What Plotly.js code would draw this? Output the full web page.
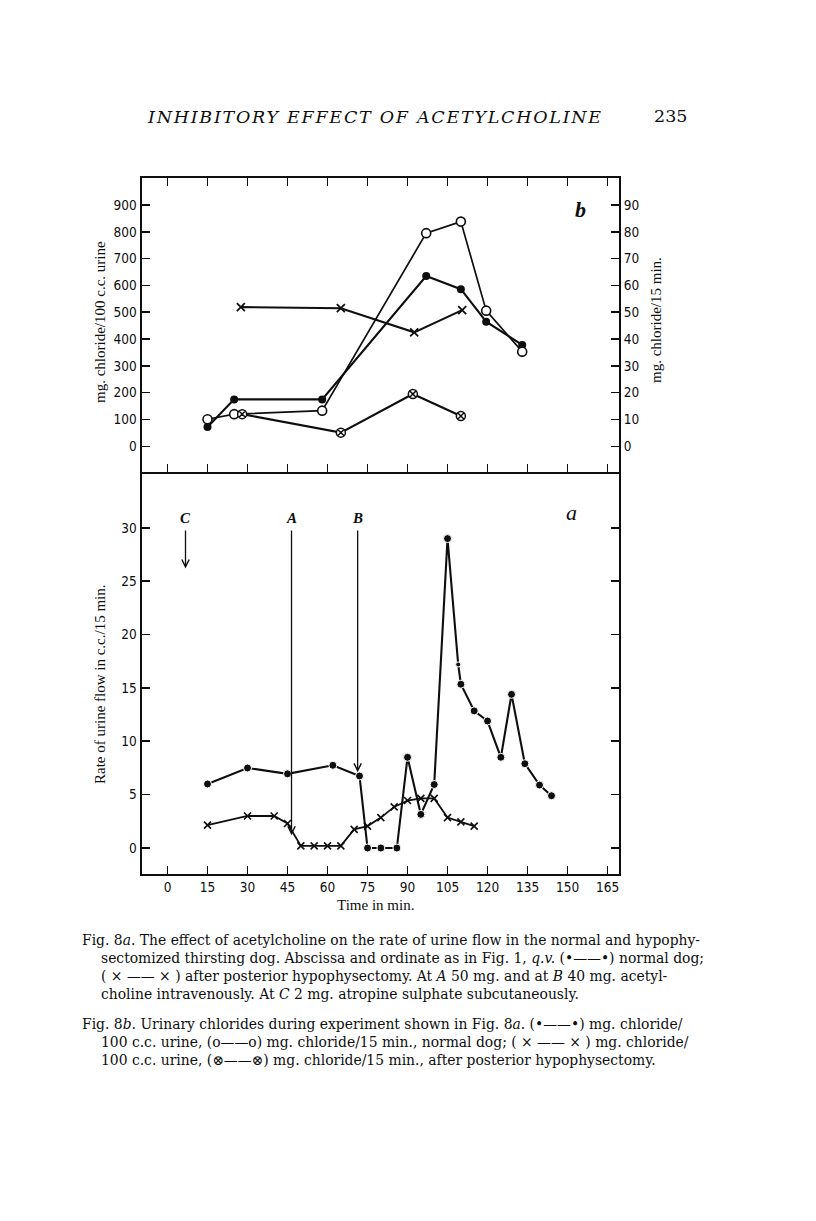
<!DOCTYPE html>
<html><head><meta charset="utf-8">
<script src="https://cdn.plot.ly/plotly-3.0.1.min.js"></script>
<style>html,body{margin:0;padding:0;background:#fff}</style>
</head><body><div id="chart" style="width:816px;height:1221px"></div>
<script>
// ---------- data ----------
const timeTicks = [0,15,30,45,60,75,90,105,120,135,150,165];
const flowTicks = [0,5,10,15,20,25,30];
const concTicks = [0,100,200,300,400,500,600,700,800,900];
const rateTicks = [0,10,20,30,40,50,60,70,80,90];

// Fig. 8a: rate of urine flow (c.c./15 min)
const normalFlowTime = [15,30,45,62,72,75,80,86,90,95,100,105,109,110,115,120,125,129,134,139.5,144];
const normalFlow     = [6.0,7.5,6.95,7.75,6.75,0,0,0,8.5,3.15,5.95,29.0,17.2,15.35,12.85,11.9,8.5,14.4,7.9,5.9,4.9];
const hypoFlowTime   = [15,30,40,45,50,55,60,65,70,75,80,85,90,95,100,105,110,115];
const hypoFlow       = [2.15,3.0,3.0,2.3,0.2,0.2,0.2,0.2,1.75,2.05,2.85,3.85,4.45,4.65,4.65,2.85,2.45,2.05];

// Fig. 8b: urinary chlorides
const normalChlTime  = [15,25,58,97,110,119.5,133];
const normalChlConc  = [72,175,175,635,586,465,378];          // mg / 100 c.c. urine
const normalChlRate  = [10.1,12.0,13.3,79.5,83.8,50.6,35.3];  // mg / 15 min
const hypoConcTime   = [27.5,65,92.5,110.5];
const hypoChlConc    = [519,515,425,508];                     // mg / 100 c.c. urine
const hypoRateTime   = [28,65,92,110];
const hypoChlRate    = [12.0,5.1,19.5,11.3];                  // mg / 15 min

// injections
const arrowLabels = ['C','A','B'];
const arrowTime   = [6.75,46.5,71.3];
const arrowTip    = [26.2,1.2,7.1];

const headText = 'INHIBITORY EFFECT OF ACETYLCHOLINE';
const pageNum = '235';
const capLines = [
  'Fig. 8<i>a</i>. The effect of acetylcholine on the rate of urine flow in the normal and hypophy-',
  'sectomized thirsting dog. Abscissa and ordinate as in Fig. 1, <i>q.v.</i> (•——•) normal dog;',
  '( × —— × ) after posterior hypophysectomy. At <i>A</i> 50 mg. and at <i>B</i> 40 mg. acetyl-',
  'choline intravenously. At <i>C</i> 2 mg. atropine sulphate subcutaneously.',
  'Fig. 8<i>b</i>. Urinary chlorides during experiment shown in Fig. 8<i>a</i>. (•——•) mg. chloride/',
  '100 c.c. urine, (o——o) mg. chloride/15 min., normal dog; ( × —— × ) mg. chloride/',
  '100 c.c. urine, (⊗——⊗) mg. chloride/15 min., after posterior hypophysectomy.'
];

// ---------- helpers ----------
const W = 816, H = 1221;
const px = x => x / W, py = y => 1 - y / H;
const ink = '#0e0e0e';
const numFont = {family:'"Liberation Sans Narrow","DejaVu Sans Condensed","Liberation Sans",sans-serif', size:13.5, color:ink};
const serif = '"Liberation Serif","DejaVu Serif",serif';
const capSerif = '"DejaVu Serif","Liberation Serif",serif';
const cv = document.createElement('canvas').getContext('2d');
function measure(txt, font){ cv.font = font; return cv.measureText(txt.replace(/<[^>]+>/g,'')).width; }

const capW = 618;
let capSize = 14 * capW / measure(capLines[0], '14px "DejaVu Serif"');
capSize = Math.round(capSize*10)/10;
const headSize = 17.5;
const headW0 = measure(headText, 'italic ' + headSize + 'px "DejaVu Serif"');
const headSpacing = Math.max(0, (453 - headW0) / (headText.length - 1));

const line = {color:ink, width:2.1};
const traces = [
  {x:normalFlowTime, y:normalFlow, xaxis:'x', yaxis:'y', mode:'lines+markers', line:line,
   marker:{symbol:'circle', opacity:1, size:normalFlowTime.map((t,i)=> i===12 ? 5 : 8), sizemode:'diameter', color:ink}},
  {x:hypoFlowTime, y:hypoFlow, xaxis:'x', yaxis:'y', mode:'lines+markers', line:{color:ink,width:1.8},
   marker:{symbol:'x-thin', size:7, line:{color:ink,width:1.6}}},
  {x:normalChlTime, y:normalChlConc, xaxis:'x2', yaxis:'y2', mode:'lines+markers', line:line,
   marker:{symbol:'circle', size:8, color:ink}},
  {x:hypoConcTime, y:hypoChlConc, xaxis:'x2', yaxis:'y2', mode:'lines+markers', line:line,
   marker:{symbol:'x-thin', size:8, line:{color:ink,width:1.8}}},
  {x:normalChlTime, y:normalChlRate, xaxis:'x2', yaxis:'y3', mode:'lines+markers', line:{color:ink,width:1.7},
   marker:{symbol:'circle', size:9, color:'#fff', line:{color:ink,width:1.6}}},
  {x:hypoRateTime, y:hypoChlRate, xaxis:'x2', yaxis:'y3', mode:'lines+markers', line:line,
   marker:{symbol:'circle-x', size:9, color:'#fff', line:{color:ink,width:1.5}}}
];

const xDom = [px(141.5), px(619)];
const xRange = [-9.75, 169.3];
const axCommon = {showgrid:false, zeroline:false, showline:true, linecolor:ink, linewidth:2,
  ticks:'inside', ticklen:8, tickwidth:1.6, tickcolor:ink, tickfont:numFont, fixedrange:true};

const layout = {
  width:W, height:H, margin:{l:0,r:0,t:0,b:0}, paper_bgcolor:'#fff', plot_bgcolor:'#fff',
  showlegend:false, hovermode:false,
  xaxis:Object.assign({}, axCommon, {domain:xDom, range:xRange, anchor:'y', tickmode:'array', tickvals:timeTicks, mirror:false}),
  yaxis:Object.assign({}, axCommon, {domain:[py(873.5), py(472)], range:[-2.39,35.24], anchor:'x', tickmode:'array', tickvals:flowTicks, mirror:'ticks'}),
  xaxis2:Object.assign({}, axCommon, {domain:xDom, range:xRange, anchor:'y2', tickmode:'array', tickvals:timeTicks, mirror:'ticks', showticklabels:false}),
  yaxis2:Object.assign({}, axCommon, {domain:[py(472), py(178)], range:[-95.8,1000.7], anchor:'x2', tickmode:'array', tickvals:concTicks}),
  yaxis3:Object.assign({}, axCommon, {range:[-9.58,100.07], anchor:'x2', overlaying:'y2', side:'right', tickmode:'array', tickvals:rateTicks}),
  annotations:[]
};

const A = layout.annotations;
function note(o){ A.push(Object.assign({showarrow:false, xanchor:'center', yanchor:'middle'}, o)); }

arrowLabels.forEach((lab,i)=>{
  A.push({x:arrowTime[i], y:arrowTip[i], ax:arrowTime[i], ay:29.9, xref:'x', yref:'y', axref:'x', ayref:'y',
          text:'', showarrow:true, arrowhead:5, arrowsize:1.1, arrowwidth:1.3, arrowcolor:ink});
  note({x:arrowTime[i], y:30.95, xref:'x', yref:'y', text:'<b><i>'+lab+'</i></b>', font:{family:serif, size:15, color:ink}});
});
note({x:151.4, y:31.4, xref:'x', yref:'y', text:'<i>a</i>', font:{family:serif,size:22,color:ink}});
note({x:155, y:884, xref:'x2', yref:'y2', text:'<b><i>b</i></b>', font:{family:serif,size:22,color:ink}});

const tfont = {family:serif, size:15, color:ink};
note({x:px(100), y:py(322), xref:'paper', yref:'paper', text:'mg. chloride/100 c.c. urine', textangle:-90, font:tfont});
note({x:px(656), y:py(320), xref:'paper', yref:'paper', text:'mg. chloride/15 min.', textangle:-90, font:tfont});
note({x:px(100), y:py(684), xref:'paper', yref:'paper', text:'Rate of urine flow in c.c./15 min.', textangle:-90, font:tfont});
note({x:px(375), y:py(905), xref:'paper', yref:'paper', text:'Time in min.', font:tfont});

note({x:px(145), y:py(117), xref:'paper', yref:'paper', xanchor:'left',
      text:'<span style="letter-spacing:'+headSpacing.toFixed(2)+'px"><i>'+headText+'</i></span>',
      font:{family:capSerif, size:headSize, color:ink}});
note({x:px(652), y:py(116), xref:'paper', yref:'paper', xanchor:'left', text:pageNum, font:{family:capSerif, size:headSize, color:ink}});

const capX = [80,99,99,99,80,99,99];
const capY = [940,958,976,994,1024,1042,1060];
capLines.forEach((t,i)=>note({x:px(capX[i]), y:py(capY[i]), xref:'paper', yref:'paper', xanchor:'left',
  text:t, font:{family:capSerif, size:capSize, color:ink}}));

Plotly.newPlot('chart', traces, layout, {staticPlot:true, displayModeBar:false});
</script></body></html>
